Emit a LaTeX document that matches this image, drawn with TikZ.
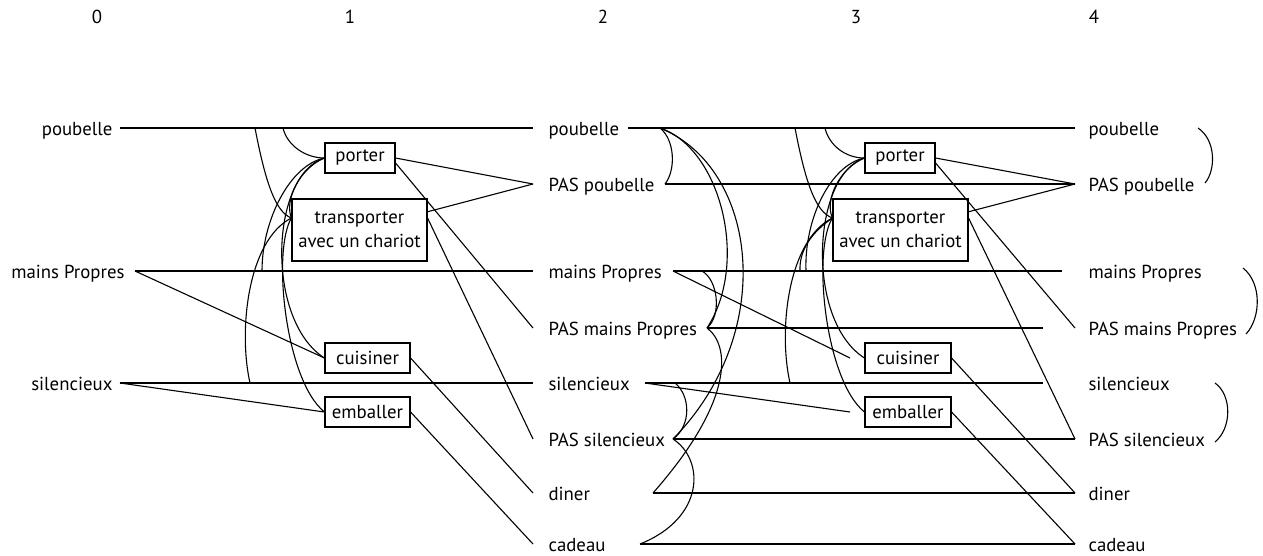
\documentclass[tikz,border=0pt]{standalone}
\usepackage{fontspec}
\setmainfont{PT Sans}
\begin{document}
\begin{tikzpicture}[x=1pt,y=-1pt,line width=1.1pt,
  txt/.style={font=\fontsize{18.8}{24}\selectfont},
  lab/.style={txt,inner ysep=0pt,text height=14pt,text depth=0pt},
  lzero/.style={lab,anchor=east,inner xsep=7pt},
  ltwo/.style={lab,anchor=west,inner xsep=15pt},
  lfour/.style={lab,anchor=west,inner xsep=13pt},
  act/.style={draw,txt,inner sep=0pt,minimum height=30pt,align=center},
  hdr/.style={txt}]
\useasboundingbox (0,0) rectangle (1263,555);
\fill[white] (0,0) rectangle (1263,555);
% headers
\node[hdr] (h0) at (97,17) {0};
\node[hdr] (h1) at (350,17) {1};
\node[hdr] (h2) at (603,17) {2};
\node[hdr] (h3) at (856,17) {3};
\node[hdr] (h4) at (1094,17) {4};
% level 0
\node[lzero] (p0) at (120,128) {poubelle};
\node[lzero,inner xsep=10pt] (mp0) at (135,271) {mains Propres};
\node[lzero] (s0) at (120,383) {silencieux};
% level 2
\node[ltwo] (p2) at (533,128) {poubelle};
\node[ltwo] (np2) at (533,184) {PAS poubelle};
\node[ltwo] (mp2) at (533,271) {mains Propres};
\node[ltwo] (nmp2) at (533,328) {PAS mains Propres};
\node[ltwo] (s2) at (533,383) {silencieux};
\node[ltwo] (ns2) at (533,439) {PAS silencieux};
\node[ltwo] (d2) at (533,493) {diner};
\node[ltwo] (c2) at (533,544) {cadeau};
% level 4
\node[lfour] (p4) at (1075,128) {poubelle};
\node[lfour] (np4) at (1075,184) {PAS poubelle};
\node[lfour] (mp4) at (1075,271) {mains Propres};
\node[lfour] (nmp4) at (1075,328) {PAS mains Propres};
\node[lfour] (s4) at (1075,383) {silencieux};
\node[lfour] (ns4) at (1075,439) {PAS silencieux};
\node[lfour] (d4) at (1075,493) {diner};
\node[lfour] (c4) at (1075,544) {cadeau};
% actions level 1
\node[act,minimum width=70pt] (por1) at (360,158) {porter};
\node[act,minimum width=135pt,minimum height=62pt] (tr1) at (359.5,230) {transporter\\avec un chariot};
\node[act,minimum width=85pt] (cui1) at (367.5,358) {cuisiner};
\node[act,minimum width=85pt] (emb1) at (367.5,412) {emballer};
% actions level 3
\node[act,minimum width=70pt] (por3) at (900,158) {porter};
\node[act,minimum width=135pt,minimum height=62pt] (tr3) at (900.5,230) {transporter\\avec un chariot};
\node[act,minimum width=86pt] (cui3) at (908,358) {cuisiner};
\node[act,minimum width=86pt] (emb3) at (908,412) {emballer};
% coordinates
\coordinate (a1) at (255,128);
\coordinate (b1) at (283,128);
\coordinate (m1) at (262,271);
\coordinate (s1) at (250,383);
\coordinate (a3) at (795,128);
\coordinate (b3) at (825,128);
\coordinate (m3a) at (800,271);
\coordinate (m3b) at (806,271);
\coordinate (s3) at (790,383);
\coordinate (p2s) at (628,128);
\coordinate (p2pt) at (660,128);
\coordinate (np2s) at (665,184);
\coordinate (mp2s) at (673,271);
\coordinate (mp2pt) at (702,271);
\coordinate (nmp2s) at (707,328);
\coordinate (s2s) at (645,383);
\coordinate (s2pt) at (675,383);
\coordinate (ns2s) at (673,439);
\coordinate (d2s) at (653,493);
\coordinate (c2s) at (640,544);
\coordinate (mp4e) at (1062,271);
\coordinate (nmp4e) at (1043,328);
\coordinate (s4e) at (1043,383);
\coordinate (cuiend) at (850,358);
\coordinate (embend) at (850,412);
% left panel straight lines
\draw (p0.east) -- (p2.west);
\draw (mp0.east) -- (mp2.west);
\draw (s0.east) -- (s2.west);
\draw (mp0.east) -- (cui1.west);
\draw (s0.east) -- (emb1.west);
\draw (por1.east) -- (np2.west);
\draw (tr1.15) -- (np2.west);
\draw (por1.-8) -- (nmp2.west);
\draw (tr1.10) -- (ns2.west);
\draw (cui1.east) -- (d2.west);
\draw (emb1.east) -- (c2.west);
% right panel straight lines
\draw (p2s) -- (p4.west);
\draw (np2s) -- (np4.west);
\draw (mp2s) -- (mp4e);
\draw (nmp2s) -- (nmp4e);
\draw (s2s) -- (s4e);
\draw (ns2s) -- (ns4.west);
\draw (d2s) -- (d4.west);
\draw (c2s) -- (c4.west);
\draw (mp2s) -- (cuiend);
\draw (s2s) -- (embend);
\draw (por3.east) -- (np4.west);
\draw (tr3.15) -- (np4.west);
\draw (por3.-8) -- (nmp4.west);
\draw (tr3.10) -- (ns4.west);
\draw (cui3.east) -- (d4.west);
\draw (emb3.east) -- (c4.west);
% level 1 mutex curves
\draw (a1) .. controls (265,180) and (275,212) .. (tr1.170);
\draw (b1) .. controls (287,145) and (305,158) .. (por1.west);
\draw (por1.west) .. controls (290,165) and (262,220) .. (m1);
\draw (por1.west) .. controls (270,175) and (265,320) .. (cui1.west);
\draw (por1.west) .. controls (300,168) and (284,200) .. (tr1.170);
\draw (tr1.170) .. controls (272,250) and (285,380) .. (emb1.west);
\draw (s1) .. controls (238,330) and (248,240) .. (tr1.170);
% level 3 mutex curves
\draw (a3) .. controls (805,180) and (815,212) .. (tr3.170);
\draw (b3) .. controls (829,145) and (845,158) .. (por3.west);
\draw (por3.west) .. controls (830,165) and (804,220) .. (m3b);
\draw (tr3.170) .. controls (812,232) and (799,250) .. (m3a);
\draw (por3.west) .. controls (812,175) and (805,320) .. (cui3.west);
\draw (por3.west) .. controls (840,168) and (824,200) .. (tr3.170);
\draw (tr3.170) .. controls (812,250) and (825,380) .. (emb3.west);
\draw (s3) .. controls (778,330) and (788,240) .. (tr3.170);
% level 2 mutex curves
\draw (p2pt) .. controls (675,140) and (676,170) .. (np2s);
\draw (p2pt) .. controls (720,148) and (750,262) .. (nmp2s);
\draw (p2pt) .. controls (758,168) and (778,332) .. (ns2s);
\draw (mp2pt) .. controls (718,280) and (722,315) .. (nmp2s);
\draw (nmp2s) .. controls (730,345) and (735,400) .. (d2s);
\draw (s2pt) .. controls (690,395) and (692,425) .. (ns2s);
\draw (ns2s) .. controls (705,460) and (705,518) .. (c2s);
% braces at level 4
\draw (1198,128) .. controls (1216,140) and (1216,170) .. (1205,183);
\draw (1243,268) .. controls (1262,283) and (1261,318) .. (1246,334);
\draw (1215,383) .. controls (1232,395) and (1232,428) .. (1215,442);
\end{tikzpicture}
\end{document}
